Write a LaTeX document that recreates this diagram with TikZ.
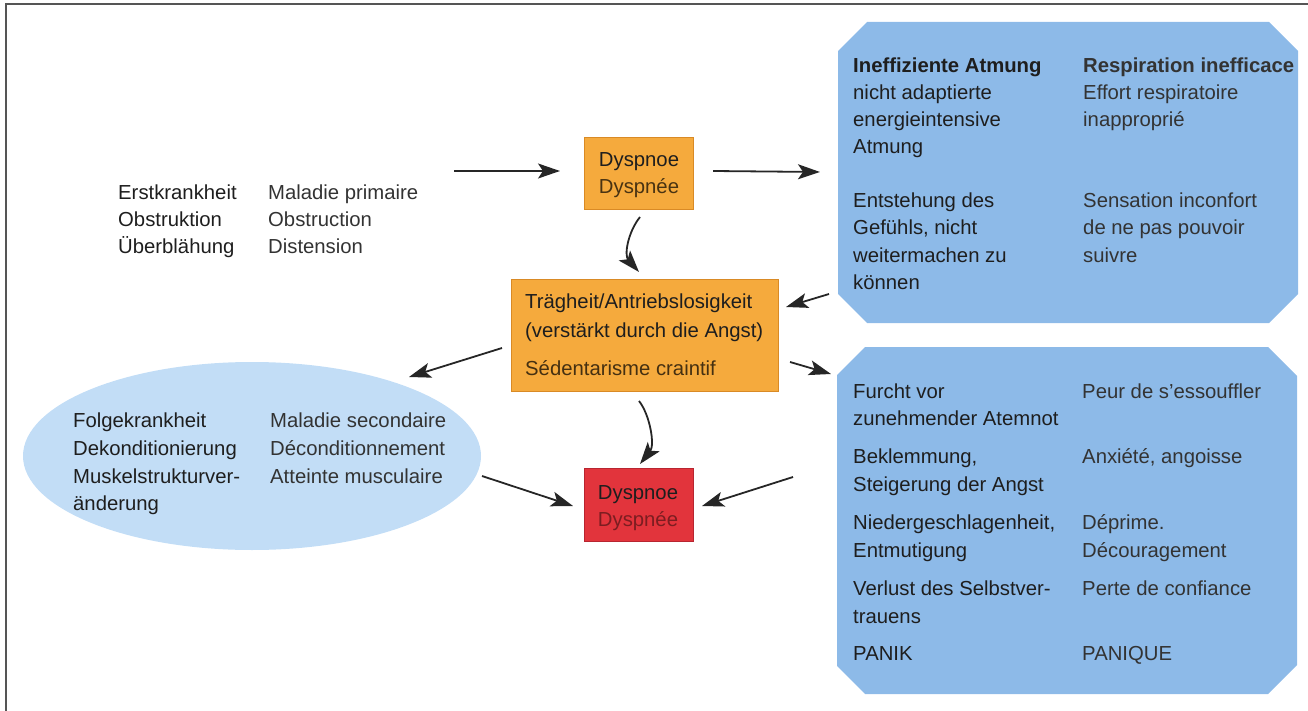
\documentclass[tikz,border=0pt]{standalone}
\usepackage{fontspec}
\setmainfont{Liberation Sans}
\usetikzlibrary{arrows.meta,shapes.geometric}
\definecolor{orangebox}{HTML}{F5AA3D}
\definecolor{orangeedge}{HTML}{D98A25}
\definecolor{redbox}{HTML}{E2343C}
\definecolor{rededge}{HTML}{B82530}
\definecolor{bluebox}{HTML}{8DBAE8}
\definecolor{lightblue}{HTML}{C2DDF6}
\definecolor{tde}{HTML}{1E1E1E}
\definecolor{tfr}{HTML}{333333}
\definecolor{frame}{HTML}{555555}
\tikzset{
  txt/.style={anchor=base west, inner sep=0pt, font=\fontsize{20.3}{24}\selectfont, text=tde},
  ctxt/.style={txt, anchor=base},
  frtxt/.style={txt, text=tfr},
  arr/.style={-{Stealth[length=22pt,width=15pt,inset=5pt]}, line width=1.8pt, draw=black!85},
  obox/.style={draw=orangeedge, line width=0.7pt, fill=orangebox, inner sep=0pt},
  rbox/.style={draw=rededge, line width=0.7pt, fill=redbox, inner sep=0pt},
  bfill/.style={fill=bluebox},
}
\begin{document}
\begin{tikzpicture}[x=1pt,y=-1pt]
\useasboundingbox (0,0) rectangle (1308,711);
% frame
\draw[frame, line width=2pt] (6,711) -- (6,4) -- (1308,4);

% chamfered blue panels
\fill[bfill] (867,22) -- (1269,22) -- (1298,51) -- (1298,294) -- (1269,323) -- (867,323) -- (838,294) -- (838,51) -- cycle;
\fill[bfill] (865,347) -- (1268,347) -- (1297,376) -- (1297,665) -- (1268,694) -- (865,694) -- (837,666) -- (837,375) -- cycle;
\coordinate (topblue) at (1068,172.5);
\coordinate (botblue) at (1067,520.5);

% shapes
\node[ellipse, fill=lightblue, minimum width=458pt, minimum height=188pt, inner sep=0pt] (ell) at (252,456) {};
\node[obox, minimum width=109pt, minimum height=72pt] (dys1) at (639,173) {};
\node[obox, minimum width=267pt, minimum height=112pt] (traeg) at (644.5,335) {};
\node[rbox, minimum width=109pt, minimum height=73pt] (dys2) at (638.5,504.5) {};

% left texts
\foreach \x/\y/\t [count=\i] in {118/200/Erstkrankheit, 118/227/Obstruktion, 118/254/Überblähung}
  \node[txt] (lg\i) at (\x,\y) {\t};
\foreach \x/\y/\t [count=\i] in {268/200/Maladie primaire, 268/227/Obstruction, 268/254/Distension}
  \node[frtxt] (lf\i) at (\x,\y) {\t};

% Dyspnoe box texts
\node[ctxt] (d1a) at (639,167) {Dyspnoe};
\node[ctxt, text=black!70!orangebox] (d1b) at (639,194) {Dyspnée};

% Traegheit
\node[txt] (tr1) at (525,308) {Trägheit/Antriebslosigkeit};
\node[txt] (tr2) at (525,337) {(verstärkt durch die Angst)};
\node[txt, text=black!72!orangebox] (tr3) at (525,375) {Sédentarisme craintif};

% red box
\node[ctxt] (d2a) at (638,499) {Dyspnoe};
\node[ctxt, text=black!45!redbox] (d2b) at (638,526) {Dyspnée};

% ellipse texts
\foreach \x/\y/\t [count=\i] in {73/427/Folgekrankheit, 73/455/Dekonditionierung, 73/483/Muskelstrukturver-, 73/510/änderung}
  \node[txt] (eg\i) at (\x,\y) {\t};
\foreach \x/\y/\t [count=\i] in {270/427/Maladie secondaire, 270/455/Déconditionnement, 270/483/Atteinte musculaire}
  \node[frtxt] (ef\i) at (\x,\y) {\t};

% top blue texts
\node[txt, font=\fontsize{20.3}{24}\selectfont\bfseries] (tb0) at (853,73) {Ineffiziente Atmung};
\node[frtxt, font=\fontsize{20.3}{24}\selectfont\bfseries] (tf0) at (1083,73) {Respiration inefficace};
\foreach \x/\y/\t [count=\i] in {853/100/nicht adaptierte, 853/127/energieintensive, 853/154/Atmung, 853/208/Entstehung des, 853/235/{Gefühls, nicht}, 853/262/weitermachen zu, 853/289/können}
  \node[txt] (tg\i) at (\x,\y) {\t};
\foreach \x/\y/\t [count=\i] in {1083/100/Effort respiratoire, 1083/127/inapproprié, 1083/208/Sensation inconfort, 1083/235/de ne pas pouvoir, 1083/262/suivre}
  \node[frtxt] (tf\i) at (\x,\y) {\t};

% bottom blue texts
\foreach \x/\y/\t [count=\i] in {853/398/Furcht vor, 853/425/zunehmender Atemnot, 853/463/{Beklemmung,}, 853/491/Steigerung der Angst, 853/529/{Niedergeschlagenheit,}, 853/557/Entmutigung, 853/595/Verlust des Selbstver-, 853/623/trauens, 853/660/PANIK}
  \node[txt] (bg\i) at (\x,\y) {\t};
\foreach \x/\y/\t [count=\i] in {1082/398/Peur de s’essouffler, 1082/463/{Anxiété, angoisse}, 1082/529/Déprime., 1082/557/Découragement, 1082/595/Perte de confiance, 1082/660/PANIQUE}
  \node[frtxt] (bf\i) at (\x,\y) {\t};

% arrow end points
\coordinate (a1s) at (454,171); \coordinate (a1e) at (560,171);
\coordinate (a2s) at (713,171); \coordinate (a2e) at (820,172);
\coordinate (a3s) at (640,217); \coordinate (a3e) at (639,272);
\coordinate (a4s) at (829,294); \coordinate (a4e) at (786,307);
\coordinate (a5s) at (790,362); \coordinate (a5e) at (831,374);
\coordinate (a6s) at (502,348); \coordinate (a6e) at (409,377);
\coordinate (a7s) at (639,401); \coordinate (a7e) at (640,464);
\coordinate (a8s) at (482,476); \coordinate (a8e) at (573,506);
\coordinate (a9s) at (793,477); \coordinate (a9e) at (702,506);

\draw[arr] (a1s) -- (a1e);
\draw[arr] (a2s) -- (a2e);
\draw[arr] (a3s) .. controls (628,232) and (624,255) .. (a3e);
\draw[arr] (a4s) -- (a4e);
\draw[arr] (a5s) -- (a5e);
\draw[arr] (a6s) -- (a6e);
\draw[arr] (a7s) .. controls (650,415) and (655,445) .. (a7e);
\draw[arr] (a8s) -- (a8e);
\draw[arr] (a9s) -- (a9e);
\end{tikzpicture}
\end{document}
